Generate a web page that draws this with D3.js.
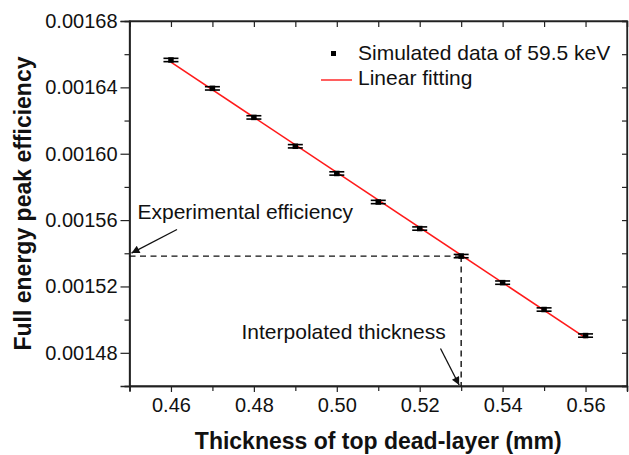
<!DOCTYPE html>
<html>
<head>
<meta charset="utf-8">
<script src="https://cdn.jsdelivr.net/npm/d3@7"></script>
<style>
  html, body { margin: 0; padding: 0; background: #fff; }
  svg { display: block; font-family: Arial, "Liberation Sans", Helvetica, sans-serif; }
</style>
</head>
<body>
<svg id="chart" width="629" height="455"></svg>
<script>
// Simulated full-energy peak efficiency (59.5 keV) versus top dead-layer thickness
const thickness = [0.46, 0.47, 0.48, 0.49, 0.50, 0.51, 0.52, 0.53, 0.54, 0.55, 0.56];
const efficiency = [0.0016565, 0.0016394, 0.0016219, 0.0016045, 0.0015881, 0.0015709,
                    0.0015549, 0.0015383, 0.0015223, 0.0015061, 0.0014904];
const efficiencyErr = [0.000001, 0.000001, 0.000001, 0.000001, 0.000001, 0.000001,
                       0.000001, 0.000001, 0.000001, 0.000001, 0.000001];
const xTickValues = [0.46, 0.48, 0.50, 0.52, 0.54, 0.56];
const yTickValues = [0.00148, 0.00152, 0.00156, 0.00160, 0.00164, 0.00168];
const experimentalEfficiency = 0.0015383;
const interpolatedThickness = 0.53;
const legendLabels = ["Simulated data of 59.5 keV", "Linear fitting"];

const svg = d3.select("#chart");
const margin = { left: 129.5, right: 2, top: 21, bottom: 69 };
const W = 629, H = 455;

const x = d3.scaleLinear().domain([0.45, 0.57]).range([margin.left, W - margin.right]);
const y = d3.scaleLinear().domain([0.00146, 0.00168]).range([H - margin.bottom, margin.top]);

const x0 = x.range()[0], x1 = x.range()[1];
const yb = y.range()[0], yt = y.range()[1];

// Arrowhead marker
svg.append("defs").append("marker")
  .attr("id", "arrow")
  .attr("viewBox", "0 0 10 10")
  .attr("refX", 10).attr("refY", 5)
  .attr("markerWidth", 11).attr("markerHeight", 8)
  .attr("markerUnits", "userSpaceOnUse")
  .attr("orient", "auto")
  .append("path").attr("d", "M0,0 L10,5 L0,10 Z").attr("fill", "#111");

const minorX = d3.range(0, 13).map(i => +(0.45 + i * 0.01).toFixed(2)).filter(v => !xTickValues.includes(v));
const minorY = d3.range(0, 12).map(i => +(0.00146 + i * 0.00002).toFixed(5)).filter(v => !yTickValues.includes(v));

// Axes: bottom / left outward ticks, top / right inward ticks
const axisStroke = "#222";
const gBottom = svg.append("g").attr("transform", `translate(0,${yb})`)
  .call(d3.axisBottom(x).tickValues(xTickValues).tickFormat(d3.format(".2f")).tickSize(6).tickPadding(4));
svg.append("g").attr("transform", `translate(0,${yb})`)
  .call(d3.axisBottom(x).tickValues(minorX).tickFormat("").tickSize(5));
const gLeft = svg.append("g").attr("transform", `translate(${x0},0)`)
  .call(d3.axisLeft(y).tickValues(yTickValues).tickFormat(d3.format(".5f")).tickSize(9).tickPadding(3));
svg.append("g").attr("transform", `translate(${x0},0)`)
  .call(d3.axisLeft(y).tickValues(minorY).tickFormat("").tickSize(5));
svg.append("g").attr("transform", `translate(0,${yt})`)
  .call(d3.axisTop(x).tickValues(xTickValues.concat(minorX)).tickFormat("").tickSize(-6));
svg.append("g").attr("transform", `translate(${x1},0)`)
  .call(d3.axisRight(y).tickValues(yTickValues.concat(minorY)).tickFormat("").tickSize(-5));

svg.selectAll(".domain").attr("stroke", axisStroke).attr("stroke-width", 1.3);
svg.selectAll(".tick line").attr("stroke", axisStroke).attr("stroke-width", 1.2);
svg.selectAll(".tick text").attr("font-size", 20).attr("fill", "#111")
  .attr("font-family", "Arial, 'Liberation Sans', sans-serif");
gBottom.selectAll(".tick text").attr("dy", "0.78em");

// Close the frame
svg.append("rect").attr("x", x0).attr("y", yt).attr("width", x1 - x0).attr("height", yb - yt)
  .attr("fill", "none").attr("stroke", axisStroke).attr("stroke-width", 1.3);

// Axis titles
svg.append("text").attr("x", (x0 + x1) / 2 - 0).attr("y", 449)
  .attr("text-anchor", "middle").attr("font-size", 23).attr("font-weight", "bold").attr("fill", "#111")
  .text("Thickness of top dead-layer (mm)");
svg.append("text").attr("transform", `translate(31,${(yb + yt) / 2}) rotate(-90)`)
  .attr("text-anchor", "middle").attr("font-size", 23).attr("font-weight", "bold").attr("fill", "#111")
  .text("Full energy peak efficiency");

// Dashed guide lines for the interpolation
const dash = "6,4.5";
svg.append("line")
  .attr("x1", x0).attr("x2", x(interpolatedThickness))
  .attr("y1", y(experimentalEfficiency)).attr("y2", y(experimentalEfficiency))
  .attr("stroke", "#111").attr("stroke-width", 1.4).attr("stroke-dasharray", dash);
svg.append("line")
  .attr("x1", x(interpolatedThickness)).attr("x2", x(interpolatedThickness))
  .attr("y1", y(experimentalEfficiency)).attr("y2", yb)
  .attr("stroke", "#111").attr("stroke-width", 1.4).attr("stroke-dasharray", dash);

// Linear least-squares fit of the simulated points
const n = thickness.length;
const mx = d3.mean(thickness), my = d3.mean(efficiency);
const slope = d3.sum(thickness, (t, i) => (t - mx) * (efficiency[i] - my)) / d3.sum(thickness, t => (t - mx) ** 2);
const intercept = my - slope * mx;
const fitX = [thickness[0], thickness[n - 1]];
svg.append("path")
  .datum(fitX)
  .attr("d", d3.line().x(d => x(d)).y(d => y(intercept + slope * d)))
  .attr("stroke", "#ff1a1a").attr("stroke-width", 1.6).attr("fill", "none");

// Error bars and markers
const pts = svg.append("g").selectAll("g").data(thickness).join("g");
const capW = 7.5;
pts.append("line")
  .attr("x1", d => x(d)).attr("x2", d => x(d))
  .attr("y1", (d, i) => y(efficiency[i] + efficiencyErr[i]))
  .attr("y2", (d, i) => y(efficiency[i] - efficiencyErr[i]))
  .attr("stroke", "#000").attr("stroke-width", 1.5);
[1, -1].forEach(s => {
  pts.append("line")
    .attr("x1", d => x(d) - capW).attr("x2", d => x(d) + capW)
    .attr("y1", (d, i) => y(efficiency[i] + s * efficiencyErr[i]))
    .attr("y2", (d, i) => y(efficiency[i] + s * efficiencyErr[i]))
    .attr("stroke", "#000").attr("stroke-width", 1.6);
});
pts.append("rect")
  .attr("x", d => x(d) - 2.75).attr("y", (d, i) => y(efficiency[i]) - 2.75)
  .attr("width", 5.5).attr("height", 5.5).attr("fill", "#000");

// Legend
const legend = svg.append("g").attr("font-size", 21).attr("fill", "#111");
legend.append("rect").attr("x", 331).attr("y", 51).attr("width", 5).attr("height", 5).attr("fill", "#000");
legend.append("text").attr("x", 358).attr("y", 60).text(legendLabels[0]);
legend.append("line").attr("x1", 321).attr("x2", 352).attr("y1", 80).attr("y2", 80)
  .attr("stroke", "#ff1a1a").attr("stroke-width", 1.4);
legend.append("text").attr("x", 358).attr("y", 85).text(legendLabels[1]);

// Annotations with arrows
const notes = svg.append("g").attr("font-size", 21).attr("fill", "#111");
notes.append("text").attr("x", 137.5).attr("y", 218.5).text("Experimental efficiency");
notes.append("line")
  .attr("x1", 177).attr("y1", 229.5)
  .attr("x2", x0 + 2).attr("y2", y(experimentalEfficiency) - 3)
  .attr("stroke", "#111").attr("stroke-width", 1.3).attr("marker-end", "url(#arrow)");
notes.append("text").attr("x", 241.5).attr("y", 338.5).text("Interpolated thickness");
notes.append("line")
  .attr("x1", 440.5).attr("y1", 348.5)
  .attr("x2", x(interpolatedThickness) - 2).attr("y2", yb - 1)
  .attr("stroke", "#111").attr("stroke-width", 1.3).attr("marker-end", "url(#arrow)");
</script>
</body>
</html>
